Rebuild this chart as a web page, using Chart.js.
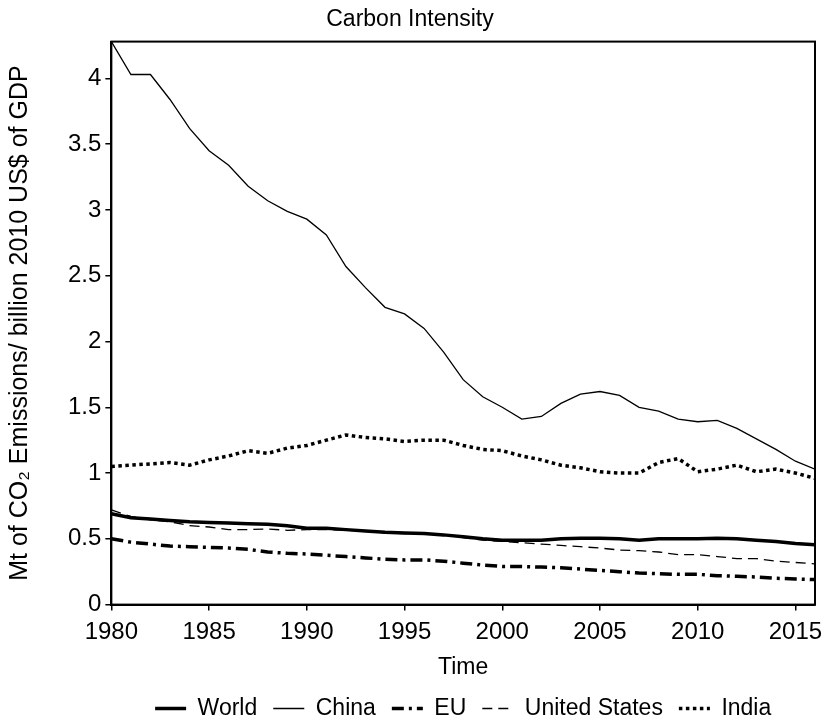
<!DOCTYPE html>
<html>
<head>
<meta charset="utf-8">
<script src="https://cdn.jsdelivr.net/npm/chart.js@4/dist/chart.umd.min.js"></script>
<style>
  html, body { margin: 0; padding: 0; background: #fff; }
  #wrap { width: 825px; height: 719px; }
</style>
</head>
<body>
<div id="wrap"><canvas id="lineChart"></canvas></div>
<script>
// 年
const years = [1980,1981,1982,1983,1984,1985,1986,1987,1988,1989,1990,1991,1992,1993,1994,1995,1996,1997,1998,1999,
               2000,2001,2002,2003,2004,2005,2006,2007,2008,2009,2010,2011,2012,2013,2014,2015,2016];

// 系列データ (Mt CO2 / billion 2010 US$)
const world = [0.69,0.66,0.65,0.64,0.63,0.625,0.62,0.615,0.61,0.60,0.58,0.58,0.57,0.56,0.55,0.545,0.54,0.53,0.515,0.50,
               0.49,0.49,0.49,0.50,0.505,0.505,0.50,0.49,0.50,0.50,0.50,0.505,0.50,0.49,0.48,0.465,0.455];
const china = [4.28,4.03,4.03,3.84,3.62,3.45,3.34,3.18,3.07,2.99,2.93,2.81,2.57,2.41,2.26,2.21,2.10,1.92,1.71,1.58,
               1.50,1.41,1.43,1.53,1.60,1.62,1.59,1.50,1.47,1.41,1.39,1.40,1.34,1.26,1.18,1.09,1.03];
const eu = [0.50,0.475,0.46,0.445,0.44,0.435,0.43,0.42,0.40,0.39,0.385,0.375,0.365,0.355,0.345,0.34,0.34,0.33,0.315,0.30,
            0.29,0.29,0.285,0.28,0.27,0.26,0.25,0.24,0.235,0.23,0.23,0.22,0.215,0.21,0.20,0.195,0.19];
const us = [0.72,0.67,0.645,0.63,0.60,0.59,0.57,0.57,0.575,0.565,0.57,0.57,0.565,0.56,0.545,0.54,0.54,0.53,0.51,0.49,
            0.48,0.47,0.46,0.45,0.44,0.43,0.415,0.41,0.40,0.38,0.38,0.365,0.35,0.35,0.33,0.32,0.31];
const india = [1.05,1.06,1.07,1.08,1.06,1.10,1.13,1.17,1.15,1.19,1.21,1.25,1.29,1.27,1.26,1.24,1.25,1.25,1.21,1.18,
               1.17,1.13,1.10,1.06,1.04,1.01,1.00,1.00,1.08,1.11,1.01,1.03,1.06,1.01,1.03,1.00,0.96];

// 目盛り
const xTicks = [1980,1985,1990,1995,2000,2005,2010,2015];
const yTicks = [0,0.5,1,1.5,2,2.5,3,3.5,4];

const pts = arr => arr.map((v, i) => ({ x: years[i], y: v }));

// 枠線
const boxPlugin = {
  id: 'box',
  afterDatasetsDraw(chart) {
    const a = chart.chartArea, c = chart.ctx;
    c.save();
    c.strokeStyle = '#000';
    c.lineWidth = 2;
    c.strokeRect(a.left, a.top, a.right - a.left, a.bottom - a.top);
    c.restore();
  }
};

const FONT = "'Liberation Sans', Arial, sans-serif";
const line = (label, data, width, dash) => ({
  label, data: pts(data), borderWidth: width, borderDash: dash,
  borderColor: '#000', backgroundColor: '#000', pointRadius: 0, pointStyle: 'line', tension: 0, fill: false
});

let lineCtx = document.getElementById("lineChart");
let lineConfig = {
  type: 'line',
  data: {
    datasets: [
      line('World', world, 3.5, []),
      line('China', china, 1.3, []),
      line('EU', eu, 3.5, [12, 5, 3, 5]),
      line('United States', us, 1.3, [10, 6]),
      line('India', india, 3.5, [3.5, 3.5]),
    ],
  },
  options: {
    responsive: true,
    maintainAspectRatio: false,
    animation: false,
    devicePixelRatio: 1,
    layout: { padding: { top: 0, right: 10, bottom: -11, left: 5 } },
    plugins: {
      title: {
        display: true, text: 'Carbon Intensity', color: '#000',
        font: { family: FONT, size: 23, weight: 'normal' },
        padding: { top: 6, bottom: 8 }
      },
      legend: {
        position: 'bottom',
        fullSize: false,
        labels: {
          color: '#000', usePointStyle: true, pointStyleWidth: 31, boxHeight: 12,
          font: { family: FONT, size: 23 }, padding: 16,
          // 凡例の線種をデータセットに合わせる
          generateLabels: chart => Chart.defaults.plugins.legend.labels.generateLabels(chart).map(item => {
            const ds = chart.data.datasets[item.datasetIndex];
            item.lineDash = ds.borderDash;
            item.lineWidth = ds.borderWidth;
            item.strokeStyle = '#000';
            return item;
          })
        }
      },
      tooltip: { enabled: false }
    },
    scales: {
      x: {
        type: 'linear', min: 1980, max: 2016,
        afterBuildTicks: axis => { axis.ticks = xTicks.map(v => ({ value: v })); },
        afterFit: axis => { axis.paddingRight = 0; },
        ticks: { color: '#000', font: { family: FONT, size: 24 }, padding: 7, maxRotation: 0,
                 callback: v => String(v) },
        grid: { drawOnChartArea: false, drawTicks: true, tickLength: 6, color: '#000', lineWidth: 1.5 },
        border: { display: true, color: '#000', width: 2 },
        title: { display: true, text: 'Time', color: '#000', font: { family: FONT, size: 23 }, padding: { top: 0, bottom: 0 } }
      },
      y: {
        min: 0, max: 4.28,
        afterBuildTicks: axis => { axis.ticks = yTicks.map(v => ({ value: v })); },
        ticks: { color: '#000', font: { family: FONT, size: 24 }, padding: 4,
                 callback: v => String(v) },
        grid: { drawOnChartArea: false, drawTicks: true, tickLength: 6, color: '#000', lineWidth: 1.5 },
        border: { display: true, color: '#000', width: 2 },
        title: { display: true, text: 'Mt of CO₂ Emissions/ billion 2010 US$ of GDP', color: '#000',
                 font: { family: FONT, size: 25 }, padding: { top: 0, bottom: 29 } }
      },
    },
  },
  plugins: [boxPlugin]
};
let lineChart = new Chart(lineCtx, lineConfig);
</script>
</body>
</html>
